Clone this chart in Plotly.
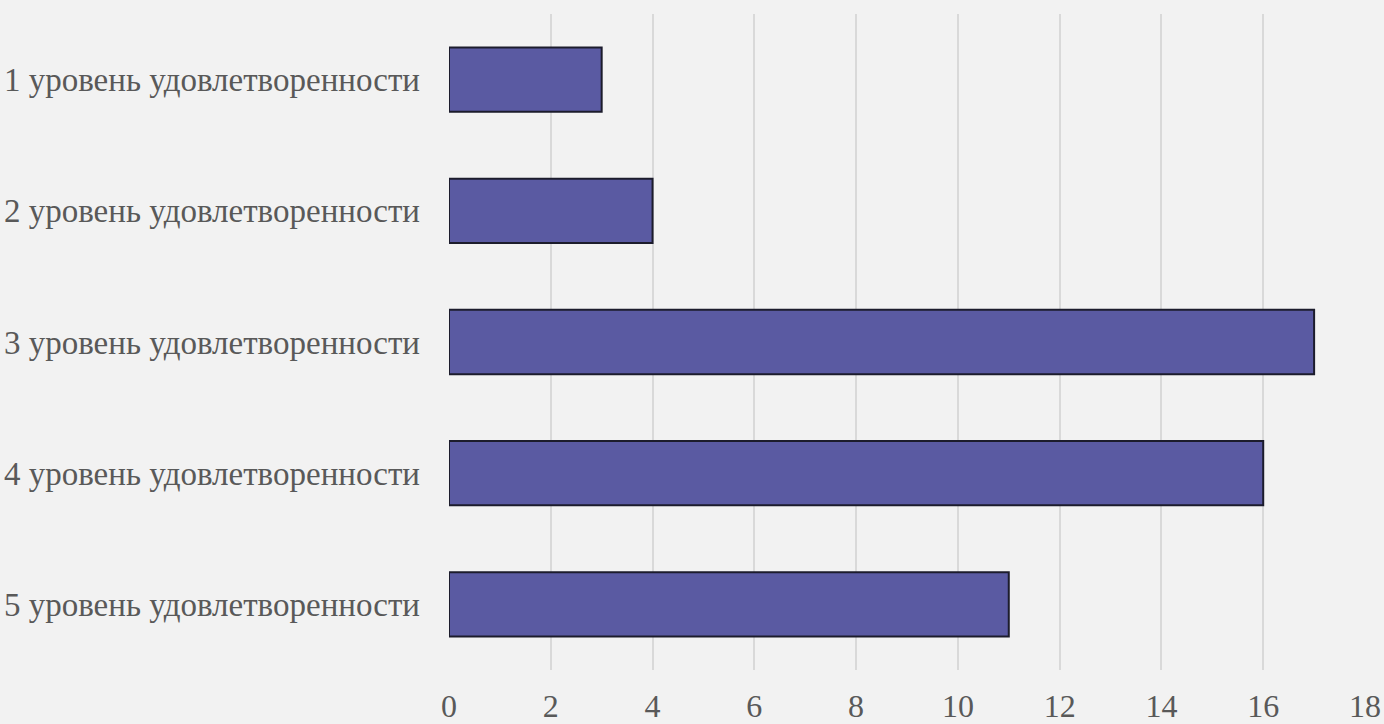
import plotly.graph_objects as go

categories = ["1 уровень удовлетворенности", "2 уровень удовлетворенности",
              "3 уровень удовлетворенности", "4 уровень удовлетворенности",
              "5 уровень удовлетворенности"]
values = [3, 4, 17, 16, 11]
x_ticks = list(range(0, 19, 2))

fig = go.Figure(go.Bar(
    y=categories, x=values, orientation="h",
    marker=dict(color="#5a5aa2", line=dict(color="#1c1c2c", width=2)),
    width=0.49,
))

font_family = "'Liberation Serif', 'Times New Roman', serif"
fig.update_layout(
    width=1384, height=724,
    paper_bgcolor="#f2f2f2", plot_bgcolor="#f2f2f2",
    margin=dict(l=449, r=19, t=14, b=54),
    showlegend=False,
    font=dict(family=font_family, size=32, color="#595959"),
)
fig.update_xaxes(range=[0, 18], tickvals=x_ticks, showgrid=True,
                 gridcolor="#d9d9d9", gridwidth=1.5, zeroline=False,
                 showline=False, ticks="", ticklabelstandoff=14,
                 automargin=False,
                 tickfont=dict(family=font_family, size=32, color="#595959"))
fig.update_yaxes(categoryorder="array", categoryarray=categories[::-1],
                 showgrid=False, zeroline=False, showline=False,
                 ticks="", ticklabelstandoff=28, automargin=False,
                 tickfont=dict(family=font_family, size=33, color="#595959"))
fig.write_html("out.html", config={"displayModeBar": False},
               post_script="document.body.style.margin='0';document.body.style.background='#f2f2f2';")
